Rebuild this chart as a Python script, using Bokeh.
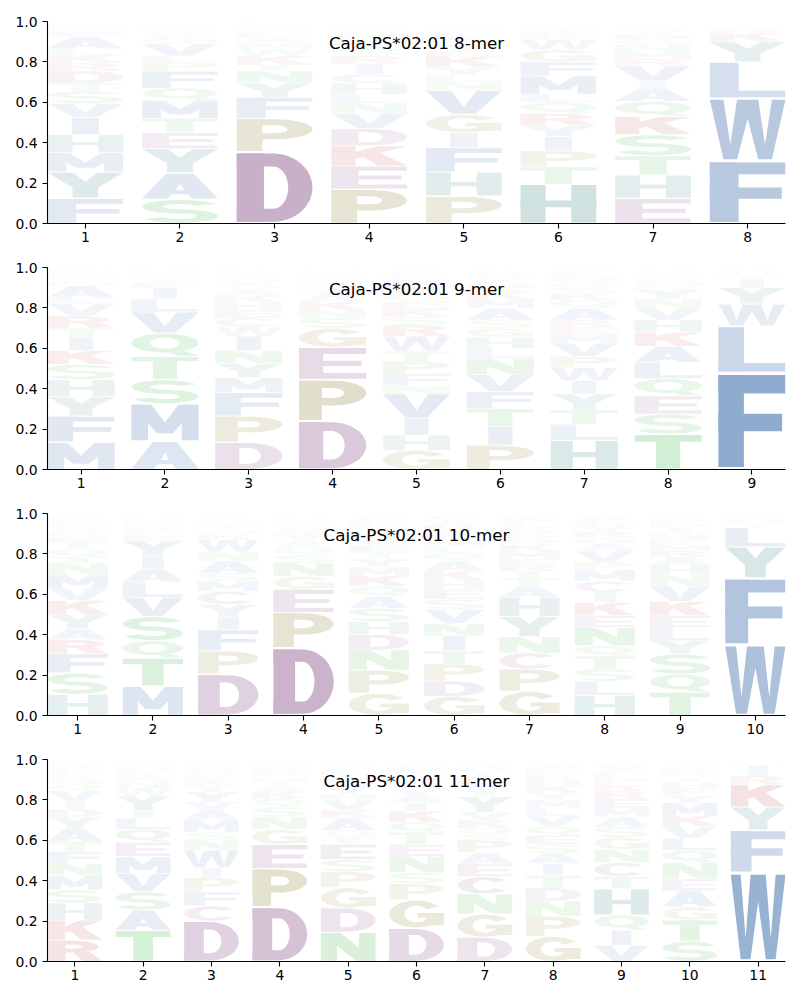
import numpy as np
from bokeh.plotting import figure
from bokeh.layouts import column
from bokeh.models import Range1d, FixedTicker, Label, ColumnDataSource, PrintfTickFormatter
from bokeh.embed import file_html
from bokeh.resources import INLINE

# ---------------- data (letters listed bottom -> top, heights = probabilities) -------------
TITLES = ["Caja-PS*02:01 8-mer", "Caja-PS*02:01 9-mer",
          "Caja-PS*02:01 10-mer", "Caja-PS*02:01 11-mer"]

MER8_LETTERS = ["FYMHIVSTDRKLAENQCW", "SAYETMQFPLVGWKNRCH", "DPFYNIKWMAELSTGR",
                "PEKDVNLHCIRSTGQAYMFW", "PHFIGVNLYKETSAMQWRDC", "HTPIYRQLMFGWEKANCS",
                "EHTSKQAIVRMNGDYWFCL", "FWLYKRIMV"]
MER8_PROBS = [
    [.125, .13, .095, .09, .085, .07, .06, .04, .06, .04, .04, .03, .06, .025, .015, .013, .009, .007],
    [.12, .13, .12, .08, .07, .09, .06, .085, .045, .03, .06, .03, .02, .015, .01, .01, .01, .005],
    [.355, .165, .105, .07, .06, .03, .045, .035, .03, .025, .02, .015, .012, .01, .008, .006],
    [.17, .115, .1, .085, .075, .05, .045, .055, .045, .05, .04, .035, .03, .025, .02, .015, .012, .01, .008, .006],
    [.135, .12, .12, .075, .09, .12, .04, .035, .04, .05, .03, .03, .02, .02, .015, .015, .01, .01, .008, .008],
    [.195, .085, .08, .07, .055, .06, .055, .04, .09, .07, .06, .05, .025, .02, .015, .01, .008, .005],
    [.125, .115, .095, .105, .09, .075, .065, .035, .075, .035, .035, .035, .025, .025, .02, .015, .01, .008, .005],
    [.31, .31, .18, .1, .045, .02, .01, .008, .007],
]

MER9_LETTERS = ["MFYHSKITRVLANQEGWP", "AMSTQVLIEYNKRH", "DPFMYNIWCEHKAQVSTGLR",
                "DPEGSNKATQVRHLYM", "GHIVNFPTWRSKEQADMCLY", "PITFVNLHGSAMKEQYRDCW",
                "HLTYIWPVMERAQKSGNDCF", "TSEQLAKHVNYRMFGDPW", "FLWYIMVHKA"]
MER9_PROBS = [
    [.135, .13, .095, .085, .075, .07, .065, .045, .06, .06, .03, .06, .02, .017, .015, .012, .009, .007],
    [.14, .185, .12, .115, .115, .105, .065, .055, .025, .02, .015, .012, .01, .008],
    [.135, .13, .115, .075, .07, .065, .07, .045, .045, .04, .04, .03, .03, .025, .02, .017, .014, .01, .008, .006],
    [.24, .205, .16, .095, .05, .04, .04, .04, .025, .02, .017, .015, .013, .01, .008, .007],
    [.095, .075, .085, .12, .04, .06, .06, .05, .075, .055, .04, .04, .035, .035, .03, .025, .02, .02, .015, .015],
    [.12, .095, .085, .085, .085, .08, .05, .055, .045, .04, .06, .045, .03, .03, .025, .02, .015, .012, .008, .005],
    [.145, .08, .07, .08, .065, .065, .055, .065, .045, .035, .035, .06, .04, .03, .03, .025, .023, .017, .013, .012],
    [.175, .1, .09, .085, .08, .08, .07, .06, .06, .045, .045, .02, .02, .018, .015, .012, .009, .006],
    [.48, .23, .11, .08, .045, .015, .012, .008, .006, .004],
]

MER10_LETTERS = ["HSFRAYKVMNTQIEPGLDWC", "MTQSVLAIYEFRKHNDG", "DPFIYCMSANWKHTEGLVR",
                 "DPEGNSQATKVHRYLM", "GPNDHSAQKMYTEVRILFCW", "GDPTINVSEHKAQLMFYRWC",
                 "GPCNYHATIREMKQSDVLWF", "HLSTQNEKICMPVAGRYDFW", "TQSYLEKVNHARMFGIDPWC",
                 "WFYLIMKVH"]
MER10_PROBS = [
    [.105, .105, .095, .07, .055, .07, .07, .06, .07, .055, .03, .04, .03, .03, .025, .02, .018, .015, .012, .01],
    [.145, .14, .085, .12, .095, .075, .07, .06, .075, .025, .022, .018, .016, .014, .012, .01, .008],
    [.205, .115, .105, .065, .06, .065, .05, .04, .06, .045, .06, .025, .02, .018, .015, .014, .012, .01, .006],
    [.335, .175, .115, .065, .065, .04, .04, .03, .027, .02, .018, .015, .013, .012, .01, .007],
    [.11, .115, .1, .075, .065, .065, .06, .05, .05, .045, .04, .035, .035, .03, .025, .025, .02, .017, .015, .013],
    [.095, .075, .085, .065, .075, .06, .07, .05, .05, .045, .045, .05, .04, .03, .03, .03, .025, .025, .025, .02],
    [.12, .11, .08, .08, .1, .095, .055, .04, .035, .03, .03, .04, .03, .03, .025, .02, .02, .018, .016, .014],
    [.1, .07, .06, .065, .05, .09, .06, .065, .05, .055, .055, .04, .055, .035, .03, .03, .025, .02, .017, .016],
    [.115, .09, .1, .065, .065, .06, .07, .075, .055, .05, .04, .03, .03, .03, .03, .025, .02, .018, .012, .008],
    [.35, .33, .155, .095, .02, .015, .01, .008, .006],
]

MER11_LETTERS = ["RKHSMNFTAYDIVQGELPWC", "TASVMEQLIYWNRKFHGDP", "DCFPIWNSMAVYTKEGHRQL",
                 "DPEGNSQKATHVRMYL", "NDGPSETQAKVHYRMILFWC", "DGPSNETQKIAVMRLFHCW",
                 "DGNCEAPSQKVYTMHLIFWR", "GPNDTIASEQVLMYKHRFWC", "VIQHTCNGSAMERKPLFYDW",
                 "STGAENQLVKMYFHIRDPWC", "WFYKRILM"]
MER11_PROBS = [
    [.105, .1, .085, .065, .07, .06, .06, .05, .065, .055, .04, .04, .05, .03, .03, .02, .02, .017, .015, .013],
    [.155, .1, .09, .09, .085, .07, .065, .055, .04, .07, .04, .03, .02, .02, .018, .015, .012, .009, .006],
    [.2, .075, .07, .07, .05, .085, .05, .04, .06, .05, .04, .05, .03, .025, .02, .02, .017, .015, .012, .011],
    [.27, .19, .12, .075, .06, .05, .04, .035, .03, .023, .02, .019, .018, .015, .012, .01],
    [.145, .12, .1, .08, .06, .075, .035, .035, .06, .04, .05, .03, .03, .025, .02, .02, .02, .017, .015, .013],
    [.165, .14, .08, .055, .08, .06, .06, .05, .055, .04, .04, .03, .03, .025, .02, .018, .015, .013, .012],
    [.12, .115, .1, .085, .065, .055, .06, .03, .03, .04, .04, .075, .03, .025, .025, .02, .02, .017, .016, .017],
    [.125, .1, .075, .065, .06, .06, .05, .045, .045, .045, .05, .04, .04, .035, .035, .03, .025, .025, .02, .02],
    [.08, .075, .075, .13, .06, .07, .065, .06, .05, .05, .045, .045, .04, .03, .03, .02, .02, .017, .015, .013],
    [.1, .105, .065, .08, .06, .08, .06, .06, .06, .05, .065, .038, .035, .03, .025, .02, .02, .015, .012, .01],
    [.44, .21, .115, .11, .045, .05, .01, .007],
]

PANELS = [(MER8_LETTERS, MER8_PROBS), (MER9_LETTERS, MER9_PROBS),
          (MER10_LETTERS, MER10_PROBS), (MER11_LETTERS, MER11_PROBS)]

# colour groups (base colour, shown with alpha = probability)
GROUP_COLORS = {
    "blue": (22, 79, 153), "teal": (8, 102, 102), "purple": (101, 32, 101),
    "olive": (110, 100, 0), "green": (0, 155, 8), "red": (164, 0, 0),
}
LETTER_GROUP = {
    "A": "blue", "F": "blue", "I": "blue", "L": "blue", "M": "blue", "V": "blue", "W": "blue",
    "H": "teal", "Y": "teal",
    "C": "purple", "D": "purple", "E": "purple",
    "G": "olive", "P": "olive",
    "N": "green", "Q": "green", "S": "green", "T": "green",
    "K": "red", "R": "red",
}


# ---------------- glyph outlines in a unit box ----------------
def rect(x0, y0, x1, y1):
    return [[(x0, y0), (x1, y0), (x1, y1), (x0, y1)]]


def poly(pts, holes=()):
    return [list(pts)] + [list(h) for h in holes]


def arc(cx, cy, rxo, ryo, rxi, ryi, a0, a1, n=48):
    t = np.radians(np.linspace(a0, a1, n))
    outer = [(cx + rxo * np.cos(a), cy + ryo * np.sin(a)) for a in t]
    inner = [(cx + rxi * np.cos(a), cy + ryi * np.sin(a)) for a in t[::-1]]
    return [outer + inner]


def ring(cx, cy, rxo, ryo, rxi, ryi):
    return [arc(cx, cy, rxo, ryo, rxi, ryi, -3, 183), arc(cx, cy, rxo, ryo, rxi, ryi, 177, 363)]


SHAPES = {
    "A": [poly([(0, 0), (0.32, 1), (0.68, 1), (1, 0), (0.66, 0), (0.61, 0.17), (0.39, 0.17), (0.34, 0)],
               [[(0.44, 0.33), (0.56, 0.33), (0.5, 0.6)]])],
    "C": [arc(0.5, 0.5, 0.5, 0.5, 0.22, 0.31, 38, 322)],
    "D": [rect(0, 0, 0.36, 1), rect(0, 0.81, 0.5, 1), rect(0, 0, 0.5, 0.19),
          arc(0.48, 0.5, 0.52, 0.5, 0.2, 0.31, -90, 90)],
    "E": [rect(0, 0, 0.36, 1), rect(0, 0.81, 1, 1), rect(0, 0.41, 0.93, 0.59), rect(0, 0, 1, 0.19)],
    "F": [rect(0, 0, 0.38, 1), rect(0, 0.8, 1, 1), rect(0, 0.39, 0.95, 0.58)],
    "G": [arc(0.5, 0.5, 0.5, 0.5, 0.22, 0.31, 35, 360), rect(0.72, 0.08, 1.0, 0.52),
          rect(0.52, 0.36, 1.0, 0.54)],
    "H": [rect(0, 0, 0.33, 1), rect(0.67, 0, 1, 1), rect(0, 0.41, 1, 0.59)],
    "I": [rect(0.32, 0, 0.68, 1)],
    "K": [rect(0, 0, 0.32, 1), poly([(0.28, 0.32), (1.0, 1.0), (0.6, 1.0), (0.28, 0.68)]),
          poly([(0.38, 0.52), (0.62, 0.70), (1.0, 0.0), (0.62, 0.0)])],
    "L": [rect(0, 0, 0.38, 1), rect(0, 0, 1, 0.19)],
    "M": [rect(0, 0, 0.25, 1), rect(0.75, 0, 1, 1),
          poly([(0.0, 1), (0.3, 1), (0.5, 0.5), (0.7, 1), (1, 1), (0.62, 0.2), (0.38, 0.2)])],
    "N": [rect(0, 0, 0.3, 1), rect(0.7, 0, 1, 1), poly([(0, 1), (0.36, 1), (1, 0), (0.64, 0)])],
    "P": [rect(0, 0, 0.34, 1), rect(0, 0.81, 0.52, 1), rect(0, 0.37, 0.52, 0.56),
          arc(0.5, 0.685, 0.5, 0.315, 0.17, 0.125, -90, 90)],
    "Q": ring(0.5, 0.575, 0.5, 0.425, 0.22, 0.25) +
         [poly([(0.52, 0.22), (0.80, 0.22), (1.0, 0.0), (0.70, 0.0)])],
    "R": [rect(0, 0, 0.33, 1), rect(0, 0.81, 0.5, 1), rect(0, 0.42, 0.5, 0.61),
          arc(0.48, 0.71, 0.45, 0.29, 0.15, 0.1, -90, 90),
          poly([(0.45, 0.5), (0.75, 0.5), (1.0, 0), (0.64, 0)])],
    "S": [arc(0.5, 0.705, 0.5, 0.295, 0.22, 0.115, 22, 275),
          arc(0.5, 0.295, 0.5, 0.295, 0.22, 0.115, 202, 455)],
    "T": [rect(0, 0.8, 1, 1), rect(0.32, 0, 0.68, 1)],
    "V": [poly([(0, 1), (0.33, 1), (0.5, 0.3), (0.67, 1), (1, 1), (0.66, 0), (0.34, 0)])],
    "W": [poly([(0, 1), (0.18, 1), (0.27, 0.25), (0.36, 1), (0.64, 1), (0.73, 0.25), (0.82, 1),
                (1, 1), (0.82, 0), (0.64, 0), (0.5, 0.68), (0.36, 0), (0.18, 0)])],
    "Y": [poly([(0, 1), (0.34, 1), (0.5, 0.64), (0.66, 1), (1, 1), (0.67, 0.4), (0.67, 0),
                (0.33, 0), (0.33, 0.4)])],
}

LETTER_WIDTH = 0.8
VPAD = 0.05


def blended(letter, alpha):
    base = GROUP_COLORS[LETTER_GROUP[letter]]
    a = max(0.0, min(1.0, alpha))
    c = [int(round(255 - a * (255 - v))) for v in base]
    return "#%02x%02x%02x" % tuple(c)


def build_logo(letters_cols, probs_cols):
    # every stroke of a letter is its own polygon so overlapping strokes never cancel
    xs, ys, colors = [], [], []
    for i, (letters, probs) in enumerate(zip(letters_cols, probs_cols)):
        pos = i + 1
        y0 = 0.0
        for ch, h in zip(letters, probs):
            pad = h * VPAD / 2
            bx0 = pos - LETTER_WIDTH / 2
            by0 = y0 + pad
            bh = h - 2 * pad
            col = blended(ch, h)
            for polyg in SHAPES[ch]:
                px, py = [], []
                for ring_pts in polyg:
                    px.append([bx0 + LETTER_WIDTH * u for u, v in ring_pts])
                    py.append([by0 + bh * v for u, v in ring_pts])
                xs.append([px])
                ys.append([py])
                colors.append(col)
            y0 += h
    return ColumnDataSource(dict(xs=xs, ys=ys, color=colors))


FONT = "DejaVu Sans"
figs = []
for k, (title, (letters_cols, probs_cols)) in enumerate(zip(TITLES, PANELS)):
    n = len(letters_cols)
    p = figure(frame_width=738, frame_height=202,
               x_range=Range1d(0.6, n + 0.4), y_range=Range1d(0, 1),
               output_backend="svg", toolbar_location=None,
               min_border_left=47, min_border_right=7,
               min_border_top=21 if k == 0 else 13, min_border_bottom=31)
    p.outline_line_color = None
    p.xgrid.visible = False
    p.ygrid.visible = False
    p.background_fill_color = "white"
    p.border_fill_color = "white"

    src = build_logo(letters_cols, probs_cols)
    p.multi_polygons(xs="xs", ys="ys", source=src, fill_color="color", line_color=None)

    p.xaxis.ticker = FixedTicker(ticks=list(range(1, n + 1)))
    p.yaxis.ticker = FixedTicker(ticks=[0, 0.2, 0.4, 0.6, 0.8, 1.0])
    p.yaxis.formatter = PrintfTickFormatter(format="%.1f")
    for ax in (p.xaxis[0], p.yaxis[0]):
        ax.axis_line_color = "black"
        ax.axis_line_width = 1.1
        ax.major_tick_line_color = "black"
        ax.major_tick_line_width = 1.1
        ax.major_tick_out = 5
        ax.major_tick_in = 0
        ax.minor_tick_out = 0
        ax.minor_tick_in = 0
        ax.major_label_text_font = FONT
        ax.major_label_text_font_size = "13.9px"
        ax.major_label_text_color = "black"
    p.xaxis[0].major_label_standoff = 3
    p.yaxis[0].major_label_standoff = 5

    p.add_layout(Label(x=(n + 1) / 2, y=1 - 21 / 202, text=title, text_align="center",
                       text_baseline="alphabetic", text_font=FONT, text_font_size="16.7px",
                       text_color="black"))
    figs.append(p)

layout = column(*figs)
open("out.html", "w").write(file_html(layout, INLINE))
